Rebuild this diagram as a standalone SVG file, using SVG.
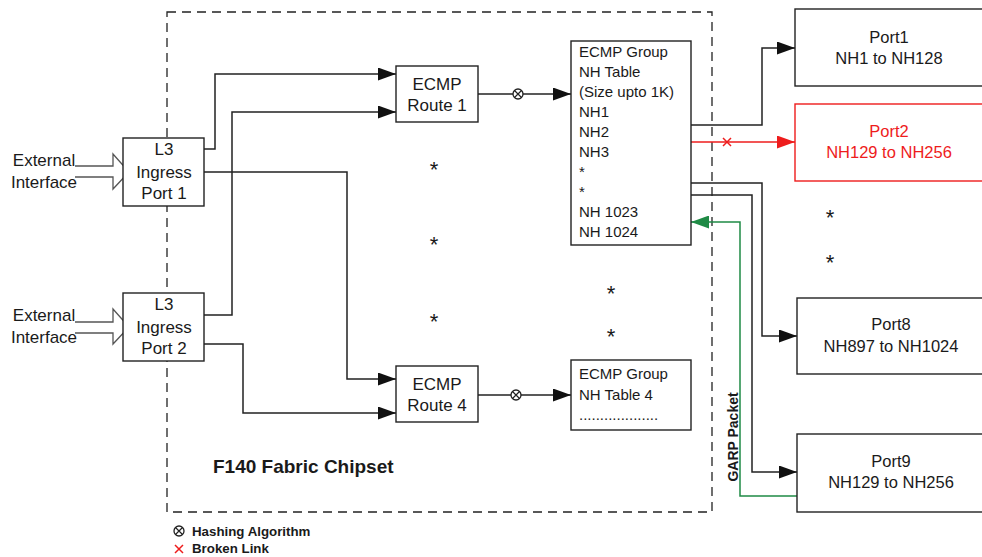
<svg xmlns="http://www.w3.org/2000/svg" width="982" height="557" viewBox="0 0 982 557">
<style>
text{font-family:"Liberation Sans",Arial,sans-serif;fill:#1a1a1a}
.box{fill:#fff;stroke:#222;stroke-width:1.4}
.red{stroke:#ee1c1c}
.t17{font-size:17px;text-anchor:middle}
.t16{font-size:16.5px;text-anchor:middle}
.t15{font-size:15px}
.star{font-size:22px;text-anchor:middle}
.bold{font-weight:bold}
.conn{fill:none;stroke:#222;stroke-width:1.5}
.hash{fill:#fff;stroke:#222;stroke-width:1.3}
</style>
<defs>
<marker id="ah" markerUnits="userSpaceOnUse" markerWidth="18" markerHeight="13" refX="18" refY="6.5" orient="auto"><path d="M0,0 L18,6.5 L0,13 z" fill="#111"/></marker>
<marker id="ahr" markerUnits="userSpaceOnUse" markerWidth="18" markerHeight="13" refX="18" refY="6.5" orient="auto"><path d="M0,0 L18,6.5 L0,13 z" fill="#ee1c1c"/></marker>
<marker id="ahg" markerUnits="userSpaceOnUse" markerWidth="18" markerHeight="13" refX="18" refY="6.5" orient="auto"><path d="M0,0 L18,6.5 L0,13 z" fill="#1f8a45"/></marker>
<g id="hashsym"><circle r="5" class="hash"/><path d="M-3.5,-3.5 L3.5,3.5 M-3.5,3.5 L3.5,-3.5" stroke="#222" stroke-width="1.2"/></g>
<path id="xmark" d="M-4,-4 L4,4 M-4,4 L4,-4" stroke="#ee1c1c" stroke-width="1.5" fill="none"/>
</defs>

<g id="chipset">
<rect x="167" y="12" width="545" height="500" fill="none" stroke="#222" stroke-width="1.3" stroke-dasharray="9,6"/>
<text x="213" y="473" class="bold" style="font-size:19px">F140 Fabric Chipset</text>
</g>

<g id="connectors">
<path class="conn" d="M204,149 H215 V74 H396" marker-end="url(#ah)"/>
<path class="conn" d="M204,315 H232 V112 H396" marker-end="url(#ah)"/>
<path class="conn" d="M204,172 H347 V379 H396" marker-end="url(#ah)"/>
<path class="conn" d="M204,344 H243 V413 H396" marker-end="url(#ah)"/>
<path class="conn" d="M478,94 H571" marker-end="url(#ah)"/>
<path class="conn" d="M478,395 H571" marker-end="url(#ah)"/>
<path class="conn" d="M691,125 H762 V48 H795" marker-end="url(#ah)"/>
<path class="conn" d="M691,142 H795" style="stroke:#ee1c1c" marker-end="url(#ahr)"/>
<path class="conn" d="M691,183 H762 V336 H797" marker-end="url(#ah)"/>
<path class="conn" d="M691,195 H752 V472 H797" marker-end="url(#ah)"/>
<path class="conn" d="M797,496 H740 V222 H691" style="stroke:#1f8a45" marker-end="url(#ahg)"/>
<use href="#hashsym" x="518" y="94"/>
<use href="#hashsym" x="516" y="395"/>
<use href="#xmark" x="727" y="142"/>
<text transform="translate(738,437) rotate(-90)" class="bold" style="font-size:14px;text-anchor:middle">GARP Packet</text>
</g>

<g id="ext1">
<text x="44" y="166" class="t17">External</text>
<text x="44" y="188" class="t17">Interface</text>
<path d="M75,166 H113 V154 L129,172 L113,189 V177 H75" fill="#fff" stroke="#555" stroke-width="1.3"/>
</g>
<g id="ext2">
<text x="44" y="321" class="t17">External</text>
<text x="44" y="343" class="t17">Interface</text>
<path d="M75,322 H113 V309 L129,327 L113,344 V333 H75" fill="#fff" stroke="#555" stroke-width="1.3"/>
</g>

<g id="ingress1">
<rect x="123" y="138" width="81" height="68" class="box"/>
<text x="164" y="155" class="t17">L3</text>
<text x="164" y="178" class="t17">Ingress</text>
<text x="164" y="199" class="t17">Port 1</text>
</g>
<g id="ingress2">
<rect x="123" y="293" width="81" height="68" class="box"/>
<text x="164" y="310" class="t17">L3</text>
<text x="164" y="333" class="t17">Ingress</text>
<text x="164" y="354" class="t17">Port 2</text>
</g>

<g id="route1">
<rect x="396" y="66" width="82" height="56" class="box"/>
<text x="437" y="90" class="t17">ECMP</text>
<text x="437" y="111" class="t17">Route 1</text>
</g>
<g id="route4">
<rect x="396" y="366" width="82" height="56" class="box"/>
<text x="437" y="390" class="t17">ECMP</text>
<text x="437" y="411" class="t17">Route 4</text>
</g>

<g id="group1">
<rect x="571" y="41" width="120" height="204" class="box"/>
<text x="579" y="57" class="t15">ECMP Group</text>
<text x="579" y="77" class="t15">NH Table</text>
<text x="579" y="97" class="t15">(Size upto 1K)</text>
<text x="579" y="117" class="t15">NH1</text>
<text x="579" y="137" class="t15">NH2</text>
<text x="579" y="157" class="t15">NH3</text>
<text x="579" y="177" class="t15">*</text>
<text x="579" y="197" class="t15">*</text>
<text x="579" y="217" class="t15">NH 1023</text>
<text x="579" y="237" class="t15">NH 1024</text>
</g>
<g id="group4">
<rect x="571" y="360" width="120" height="70" class="box"/>
<text x="579" y="379" class="t15">ECMP Group</text>
<text x="579" y="400" class="t15">NH Table 4</text>
<text x="579" y="420" class="t15">...................</text>
</g>

<g id="stars">
<text x="434" y="177" class="star">*</text>
<text x="434" y="252" class="star">*</text>
<text x="434" y="329" class="star">*</text>
<text x="611" y="301" class="star">*</text>
<text x="611" y="344" class="star">*</text>
<text x="830" y="225" class="star">*</text>
<text x="830" y="270" class="star">*</text>
</g>

<g id="port1">
<rect x="795" y="9" width="220" height="77" class="box"/>
<text x="889" y="43" class="t16">Port1</text>
<text x="889" y="64" class="t16">NH1 to NH128</text>
</g>
<g id="port2">
<rect x="795" y="104" width="220" height="77" class="box red"/>
<text x="889" y="137" class="t16" style="fill:#ee1c1c">Port2</text>
<text x="889" y="158" class="t16" style="fill:#ee1c1c">NH129 to NH256</text>
</g>
<g id="port8">
<rect x="797" y="298" width="220" height="76" class="box"/>
<text x="891" y="330" class="t16">Port8</text>
<text x="891" y="352" class="t16">NH897 to NH1024</text>
</g>
<g id="port9">
<rect x="797" y="434" width="220" height="78" class="box"/>
<text x="891" y="467" class="t16">Port9</text>
<text x="891" y="488" class="t16">NH129 to NH256</text>
</g>

<g id="legend">
<use href="#hashsym" x="179" y="531"/>
<text x="192" y="536" class="bold" style="font-size:13.3px">Hashing Algorithm</text>
<use href="#xmark" x="179" y="549"/>
<text x="192" y="553" class="bold" style="font-size:13.3px">Broken Link</text>
</g>
</svg>
